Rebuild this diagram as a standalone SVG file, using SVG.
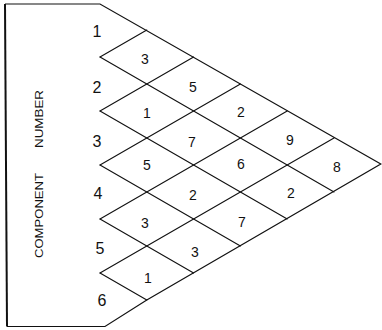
<svg xmlns="http://www.w3.org/2000/svg" width="382" height="330" viewBox="0 0 382 330">
<style>
.ln{stroke:#111;stroke-width:1.1;fill:none;stroke-linecap:round}
.ol{stroke:#111;stroke-width:1.2;fill:none;stroke-linejoin:miter}
.row{font-family:"Liberation Sans",Arial,sans-serif;font-size:16px;fill:#111;text-anchor:middle}
.cell{font-family:"Liberation Sans",Arial,sans-serif;font-size:14px;fill:#111;text-anchor:middle}
.ttl{font-family:"Liberation Sans",Arial,sans-serif;font-size:11.5px;fill:#111;text-anchor:middle}
</style>
<rect width="382" height="330" fill="#fff"/>
<g id="outline">
<path class="ol" d="M5,4 H100 L380.8,164 L146.8,300 L105,326.5 H7"/>
<path d="M5,4 L7,326.5" stroke="#111" stroke-width="2" fill="none"/>
</g>
<g id="connectors">
<line class="ln" x1="100" y1="57" x2="334" y2="192"/>
<line class="ln" x1="100" y1="111" x2="287.2" y2="219"/>
<line class="ln" x1="100" y1="165" x2="240.4" y2="246"/>
<line class="ln" x1="100" y1="219" x2="193.6" y2="273"/>
<line class="ln" x1="100" y1="273" x2="146.8" y2="300"/>
<line class="ln" x1="100" y1="273" x2="334" y2="138"/>
<line class="ln" x1="100" y1="219" x2="287.2" y2="111"/>
<line class="ln" x1="100" y1="165" x2="240.4" y2="84"/>
<line class="ln" x1="100" y1="111" x2="193.6" y2="57"/>
<line class="ln" x1="100" y1="57" x2="146.8" y2="30"/>
</g>
<g id="title">
<text class="ttl" transform="translate(43,119) rotate(-90)" textLength="58" lengthAdjust="spacingAndGlyphs">NUMBER</text>
<text class="ttl" transform="translate(43,215.5) rotate(-90)" textLength="85" lengthAdjust="spacingAndGlyphs">COMPONENT</text>
</g>
<g id="rows">
<g id="row1"><text class="row" x="97" y="37">1</text></g>
<g id="row2"><text class="row" x="97" y="93">2</text></g>
<g id="row3"><text class="row" x="97" y="147">3</text></g>
<g id="row4"><text class="row" x="98" y="199">4</text></g>
<g id="row5"><text class="row" x="100" y="254">5</text></g>
<g id="row6"><text class="row" x="102" y="306">6</text></g>
</g>
<g id="cells">
<g id="c1"><text class="cell" x="145" y="64">3</text></g>
<g id="c2"><text class="cell" x="193" y="92">5</text></g>
<g id="c3"><text class="cell" x="147" y="118">1</text></g>
<g id="c4"><text class="cell" x="241" y="117">2</text></g>
<g id="c5"><text class="cell" x="192" y="147">7</text></g>
<g id="c6"><text class="cell" x="290" y="145">9</text></g>
<g id="c7"><text class="cell" x="147" y="170">5</text></g>
<g id="c8"><text class="cell" x="241" y="169">6</text></g>
<g id="c9"><text class="cell" x="337" y="172">8</text></g>
<g id="c10"><text class="cell" x="193" y="200">2</text></g>
<g id="c11"><text class="cell" x="291" y="198">2</text></g>
<g id="c12"><text class="cell" x="145" y="228">3</text></g>
<g id="c13"><text class="cell" x="242" y="227">7</text></g>
<g id="c14"><text class="cell" x="195" y="257">3</text></g>
<g id="c15"><text class="cell" x="148" y="283">1</text></g>
</g>
</svg>
